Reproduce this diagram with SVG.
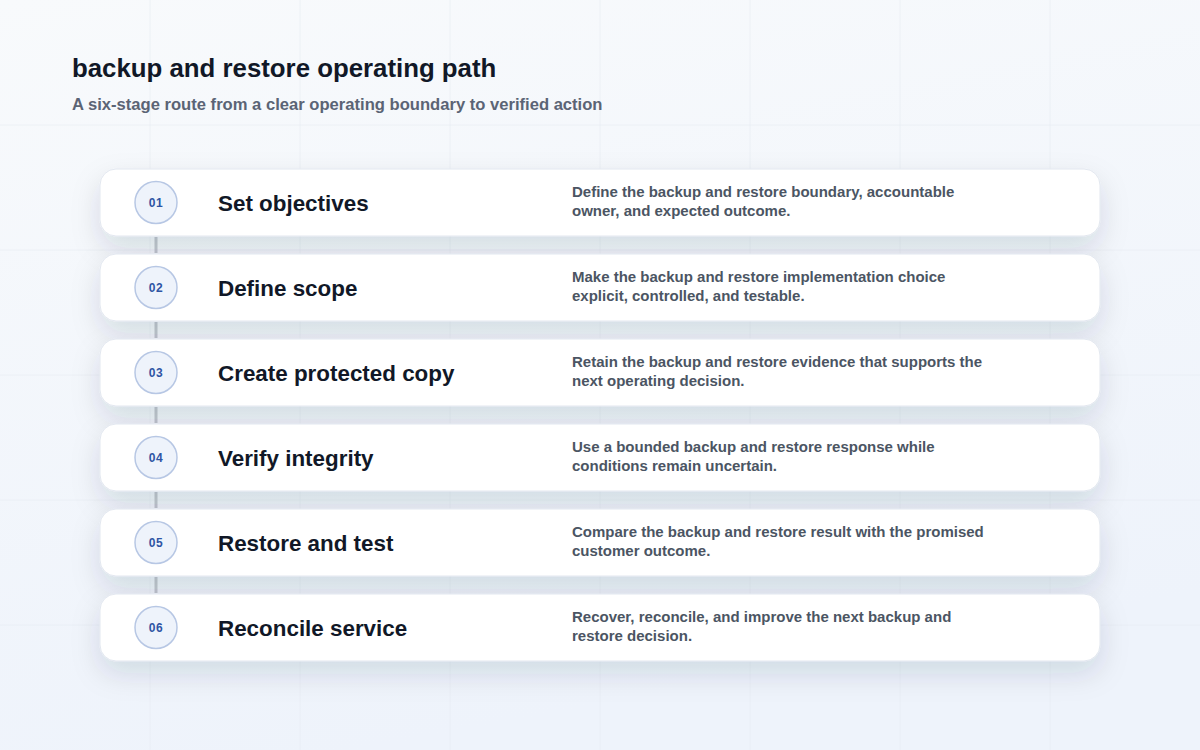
<svg xmlns="http://www.w3.org/2000/svg" width="1200" height="750" viewBox="0 0 1200 750">
<defs>
<linearGradient id="bg" x1="0" y1="0" x2="0.3" y2="1">
<stop offset="0" stop-color="#f8fafc"/>
<stop offset="1" stop-color="#eef3fb"/>
</linearGradient>
<filter id="sh" x="-10%" y="-60%" width="120%" height="250%">
<feDropShadow dx="0" dy="12" stdDeviation="14" flood-color="#1e2a4a" flood-opacity="0.13"/>
</filter>
<style>
.grid{stroke:#e6ebf2;stroke-width:1;opacity:0.6}
.card{fill:#ffffff;stroke:#e2e7ef;stroke-width:1}
.badge{fill:#eef3fb;stroke:#b7c7e4;stroke-width:1.5}
.num{font-family:"Liberation Sans",Arial,sans-serif;font-size:12px;font-weight:700;fill:#2f55a4;text-anchor:middle;letter-spacing:0.5px}
.ttl{font-family:"Liberation Sans",Arial,sans-serif;font-size:22.4px;font-weight:700;fill:#111827}
.desc{font-family:"Liberation Sans",Arial,sans-serif;font-size:15px;font-weight:700;fill:#4b5563}
.conn{stroke:#c3c7cf;stroke-width:3}
</style>
</defs>
<rect width="1200" height="750" fill="url(#bg)"/>
<g id="grid">
<line class="grid" x1="150" y1="0" x2="150" y2="750"/>
<line class="grid" x1="300" y1="0" x2="300" y2="750"/>
<line class="grid" x1="450" y1="0" x2="450" y2="750"/>
<line class="grid" x1="600" y1="0" x2="600" y2="750"/>
<line class="grid" x1="750" y1="0" x2="750" y2="750"/>
<line class="grid" x1="900" y1="0" x2="900" y2="750"/>
<line class="grid" x1="1050" y1="0" x2="1050" y2="750"/>
<line class="grid" x1="0" y1="125" x2="1200" y2="125"/>
<line class="grid" x1="0" y1="250" x2="1200" y2="250"/>
<line class="grid" x1="0" y1="375" x2="1200" y2="375"/>
<line class="grid" x1="0" y1="500" x2="1200" y2="500"/>
<line class="grid" x1="0" y1="625" x2="1200" y2="625"/>
</g>
<g id="header">
<text x="72" y="77" font-family="Liberation Sans, Arial, sans-serif" font-size="25.8" font-weight="700" fill="#111827">backup and restore operating path</text>
<text x="72" y="110" font-family="Liberation Sans, Arial, sans-serif" font-size="16.6" font-weight="700" fill="#5b6475">A six-stage route from a clear operating boundary to verified action</text>
</g>
<g id="connectors">
<line class="conn" x1="156" y1="237" x2="156" y2="253"/>
<line class="conn" x1="156" y1="322" x2="156" y2="338"/>
<line class="conn" x1="156" y1="407" x2="156" y2="423"/>
<line class="conn" x1="156" y1="492" x2="156" y2="508"/>
<line class="conn" x1="156" y1="577" x2="156" y2="593"/>
</g>
<g id="step1">
<rect class="card" x="100" y="169" width="1000" height="67" rx="16" filter="url(#sh)"/>
<circle class="badge" cx="156" cy="202.5" r="21"/>
<text class="num" x="156" y="207">01</text>
<text class="ttl" x="218" y="211">Set objectives</text>
<text class="desc" x="572" y="197">Define the backup and restore boundary, accountable</text>
<text class="desc" x="572" y="216">owner, and expected outcome.</text>
</g>
<g id="step2">
<rect class="card" x="100" y="254" width="1000" height="67" rx="16" filter="url(#sh)"/>
<circle class="badge" cx="156" cy="287.5" r="21"/>
<text class="num" x="156" y="292">02</text>
<text class="ttl" x="218" y="296">Define scope</text>
<text class="desc" x="572" y="282">Make the backup and restore implementation choice</text>
<text class="desc" x="572" y="301">explicit, controlled, and testable.</text>
</g>
<g id="step3">
<rect class="card" x="100" y="339" width="1000" height="67" rx="16" filter="url(#sh)"/>
<circle class="badge" cx="156" cy="372.5" r="21"/>
<text class="num" x="156" y="377">03</text>
<text class="ttl" x="218" y="381">Create protected copy</text>
<text class="desc" x="572" y="367">Retain the backup and restore evidence that supports the</text>
<text class="desc" x="572" y="386">next operating decision.</text>
</g>
<g id="step4">
<rect class="card" x="100" y="424" width="1000" height="67" rx="16" filter="url(#sh)"/>
<circle class="badge" cx="156" cy="457.5" r="21"/>
<text class="num" x="156" y="462">04</text>
<text class="ttl" x="218" y="466">Verify integrity</text>
<text class="desc" x="572" y="452">Use a bounded backup and restore response while</text>
<text class="desc" x="572" y="471">conditions remain uncertain.</text>
</g>
<g id="step5">
<rect class="card" x="100" y="509" width="1000" height="67" rx="16" filter="url(#sh)"/>
<circle class="badge" cx="156" cy="542.5" r="21"/>
<text class="num" x="156" y="547">05</text>
<text class="ttl" x="218" y="551">Restore and test</text>
<text class="desc" x="572" y="537">Compare the backup and restore result with the promised</text>
<text class="desc" x="572" y="556">customer outcome.</text>
</g>
<g id="step6">
<rect class="card" x="100" y="594" width="1000" height="67" rx="16" filter="url(#sh)"/>
<circle class="badge" cx="156" cy="627.5" r="21"/>
<text class="num" x="156" y="632">06</text>
<text class="ttl" x="218" y="636">Reconcile service</text>
<text class="desc" x="572" y="622">Recover, reconcile, and improve the next backup and</text>
<text class="desc" x="572" y="641">restore decision.</text>
</g>
</svg>
